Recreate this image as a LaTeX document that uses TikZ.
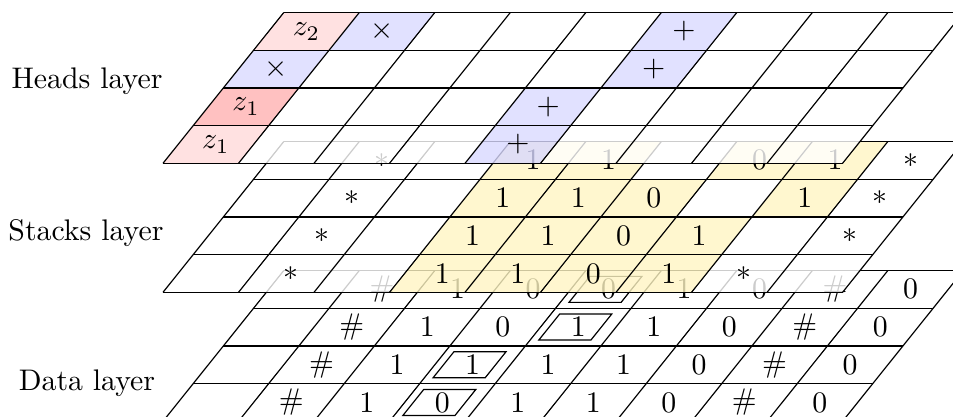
\documentclass[tikz,border=0pt]{standalone}
\colorlet{hpink}{red!15}
\colorlet{hred}{red!30}
\colorlet{hblue}{blue!15}
\definecolor{syellow}{RGB}{255,245,195}
\tikzset{
  gridline/.style={black, line width=0.4pt},
  wfill/.style={fill=white, fill opacity=0.8},
  cfill/.style={fill=#1, fill opacity=0.8},
  lbl/.style={anchor=base, inner sep=0pt},
  cell/.style={inner sep=0pt},
  layer/.style={x={(25.34pt,0pt)}, y={(10.135pt,12.652pt)}},
}
\begin{document}
\begin{tikzpicture}[x=0.3356pt, y=-0.3356pt]
\path[use as bounding box] (0,0) rectangle (953,416);
\clip (0,0) rectangle (953,416);

% ---------------- Data layer ----------------
\begin{scope}[shift={(163,421.3)}, layer]
  \fill[wfill] (0,0) -- (9,0) -- (9,4) -- (0,4) -- cycle;
  \foreach \j in {0,...,4} \draw[gridline] (0,\j) -- (9,\j);
  \foreach \c in {0,...,9} \draw[gridline] (\c,0) -- (\c,4);
  \foreach \c/\j in {4/3,4/2,3/1,3/0}
    \draw[gridline] (\c+0.115,\j+0.155) -- (\c+0.805,\j+0.155) -- (\c+0.805,\j+0.845) -- (\c+0.115,\j+0.845) -- cycle;
  \foreach \c/\j/\t in {1/3/\#,2/3/1,3/3/0,4/3/0,5/3/1,6/3/0,7/3/\#,8/3/0,
                        1/2/\#,2/2/1,3/2/0,4/2/1,5/2/1,6/2/0,7/2/\#,8/2/0,
                        1/1/\#,2/1/1,3/1/1,4/1/1,5/1/1,6/1/0,7/1/\#,8/1/0,
                        1/0/\#,2/0/1,3/0/0,4/0/1,5/0/1,6/0/0,7/0/\#,8/0/0}
    \node[cell] (d-\c-\j) at (\c+0.5,\j+0.5) {$\t$};
\end{scope}

% ---------------- Stacks layer ----------------
\begin{scope}[shift={(163,292.3)}, layer]
  \foreach \a/\b/\j in {0/3/3,5/6/3,8/9/3, 0/3/2,6/7/2,8/9/2, 0/3/1,7/9/1, 0/3/0,7/9/0}
    \fill[wfill] (\a,\j) -- (\b,\j) -- (\b,\j+1) -- (\a,\j+1) -- cycle;
  \foreach \a/\b/\j in {3/5/3,6/8/3, 3/6/2,7/8/2, 3/7/1, 3/7/0}
    \fill[cfill=syellow] (\a,\j) -- (\b,\j) -- (\b,\j+1) -- (\a,\j+1) -- cycle;
  \foreach \j in {0,...,4} \draw[gridline] (0,\j) -- (9,\j);
  \foreach \c in {0,...,9} \draw[gridline] (\c,0) -- (\c,4);
  \foreach \c/\j/\t in {1/3/*,3/3/1,4/3/1,6/3/0,7/3/1,8/3/*,
                        1/2/*,3/2/1,4/2/1,5/2/0,7/2/1,8/2/*,
                        1/1/*,3/1/1,4/1/1,5/1/0,6/1/1,8/1/*,
                        1/0/*,3/0/1,4/0/1,5/0/0,6/0/1,7/0/*}
    \node[cell] (s-\c-\j) at (\c+0.5,\j+0.5) {$\t$};
\end{scope}

% ---------------- Heads layer ----------------
\begin{scope}[shift={(163,163.3)}, layer]
  \foreach \a/\b/\j in {2/5/3,6/9/3, 1/5/2,6/9/2, 1/4/1,5/9/1, 1/4/0,5/9/0}
    \fill[wfill] (\a,\j) -- (\b,\j) -- (\b,\j+1) -- (\a,\j+1) -- cycle;
  \foreach \a/\j/\col in {0/3/hpink,1/3/hblue,5/3/hblue, 0/2/hblue,5/2/hblue,
                          0/1/hred,4/1/hblue, 0/0/hpink,4/0/hblue}
    \fill[cfill=\col] (\a,\j) -- (\a+1,\j) -- (\a+1,\j+1) -- (\a,\j+1) -- cycle;
  \foreach \j in {0,...,4} \draw[gridline] (0,\j) -- (9,\j);
  \foreach \c in {0,...,9} \draw[gridline] (\c,0) -- (\c,4);
  \foreach \c/\j/\t in {0/3/z_2,1/3/\times,5/3/+,
                        0/2/\times,5/2/+,
                        0/1/z_1,4/1/+,
                        0/0/z_1,4/0/+}
    \node[cell] (h-\c-\j) at (\c+0.5,\j+0.5) {$\t$};
\end{scope}

% ---------------- Labels ----------------
\node[lbl] (lh) at (87,88.3) {Heads layer};
\node[lbl] (ls) at (86,240) {Stacks layer};
\node[lbl] (ld) at (87,390.7) {Data layer};
\end{tikzpicture}
\end{document}
